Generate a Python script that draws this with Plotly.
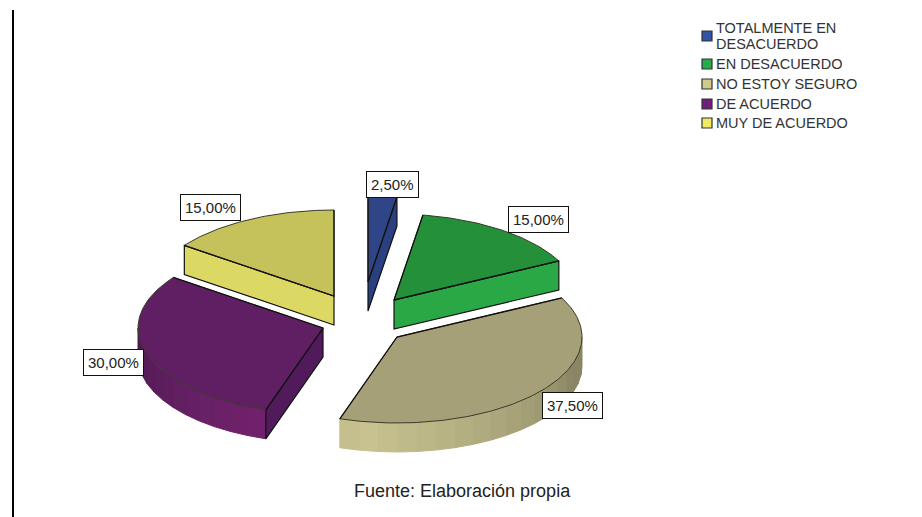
import math
import plotly.graph_objects as go

# data
categories = ['TOTALMENTE EN<br>DESACUERDO', 'EN DESACUERDO', 'NO ESTOY SEGURO',
              'DE ACUERDO', 'MUY DE ACUERDO']
percents = [2.5, 15.0, 37.5, 30.0, 15.0]

# styles
top_colors = ['#2f4588', '#25903a', '#a5a077', '#5f1f62', '#c5c15b']
cut_colors = ['#2a4080', '#2aa845', '#c5c08a', '#511a5b', '#dcd864']
rim_dark = ['#2a4080', '#1f7a33', '#8a8664', '#4a1a52', '#a8a44c']
rim_light = ['#2f4588', '#2aa845', '#c8c390', '#76236f', '#dcd864']
legend_colors = ['#3552a5', '#26ad4b', '#cfca8e', '#6e2078', '#efeb62']

# layout of the exploded pie, in page pixels
RX, RY, DEPTH = 185, 86, 29
apex_x = [368, 394, 397, 323, 334]
apex_y = [282, 300, 337, 328, 296]
label_x = [392.5, 538, 572, 113, 210]
label_y = [184, 219, 405.5, 362.5, 207.5]
legend_y = [36, 64, 84, 104, 123]


def rim_point(cx, cy, deg, drop=0):
    a = math.radians(deg)
    return cx + RX * math.sin(a), cy - RY * math.cos(a) + drop


def mix(c1, c2, t):
    p = [int(c1[i:i + 2], 16) for i in (1, 3, 5)]
    q = [int(c2[i:i + 2], 16) for i in (1, 3, 5)]
    return 'rgb(%d,%d,%d)' % tuple(a + (b - a) * t for a, b in zip(p, q))


def poly(xs, ys, fill, line=None, width=0):
    return go.Scatter(x=xs, y=ys, mode='lines', fill='toself', fillcolor=fill,
                      line=dict(color=line or fill, width=width or 1),
                      hoverinfo='skip', showlegend=False)


fig = go.Figure()

start = 0
for i, pct in enumerate(percents):
    end = start + pct * 3.6
    cx, cy = apex_x[i], apex_y[i]
    mid = (start + end) / 2

    # outer rim, only the part that faces the viewer
    a0, a1 = max(start, 90), min(end, 270)
    if a0 < a1:
        n = max(int((a1 - a0) / 6), 1)
        for k in range(n):
            s0 = a0 + (a1 - a0) * k / n
            s1 = a0 + (a1 - a0) * (k + 1) / n
            t = max(0, 1 - abs((s0 + s1) / 2 - 190) / 80) ** 0.8
            arc = [s0 + (s1 - s0) * j / 3 for j in range(4)]
            up = [rim_point(cx, cy, d) for d in arc]
            low = [rim_point(cx, cy, d, DEPTH) for d in reversed(arc)]
            pts = up + low + up[:1]
            fig.add_trace(poly([p[0] for p in pts], [p[1] for p in pts],
                               mix(rim_dark[i], rim_light[i], t)))

    # cut faces of the wedge
    mx, my = rim_point(0, 0, mid)
    for edge in (start, end):
        ex, ey = rim_point(0, 0, edge)
        nx, ny = ey, -ex
        if nx * mx + ny * my > 0:
            nx, ny = -nx, -ny
        if ny > 1:
            px, py = rim_point(cx, cy, edge)
            fig.add_trace(poly([cx, px, px, cx, cx],
                               [cy, py, py + DEPTH, cy + DEPTH, cy],
                               cut_colors[i], '#111111', 1.2))

    # top of the wedge
    steps = max(int(end - start), 2)
    arc = [rim_point(cx, cy, start + (end - start) * j / steps) for j in range(steps + 1)]
    fig.add_trace(poly([cx] + [p[0] for p in arc] + [cx],
                       [cy] + [p[1] for p in arc] + [cy],
                       top_colors[i], '#3a3a2a', 1))
    fig.add_trace(go.Scatter(x=[arc[0][0], cx, arc[-1][0]], y=[arc[0][1], cy, arc[-1][1]],
                             mode='lines', line=dict(color='#111111', width=1.3),
                             hoverinfo='skip', showlegend=False))

    fig.add_annotation(x=label_x[i], y=label_y[i], text=f'{pct:.2f}%'.replace('.', ','),
                       showarrow=False, bgcolor='white', bordercolor='#111111',
                       borderwidth=1, borderpad=4,
                       font=dict(family='Liberation Sans', size=15, color='#222222'))
    start = end

# legend
for i, name in enumerate(categories):
    fig.add_trace(go.Scatter(x=[707], y=[legend_y[i]], mode='markers', name=name,
                             marker=dict(symbol='square', size=10, color=legend_colors[i],
                                         line=dict(color='#333333', width=1.2)),
                             hoverinfo='skip', showlegend=False))
    lines = name.split('<br>')
    for j, line in enumerate(lines):
        fig.add_annotation(x=714, y=legend_y[i] - 8.25 * (len(lines) - 1) + 16.5 * j, text=line,
                           xanchor='left', showarrow=False,
                           font=dict(family='Liberation Sans', size=14.5, color='#333333'))

fig.add_annotation(x=462, y=491, text='Fuente: Elaboración propia', showarrow=False,
                   font=dict(family='Liberation Sans', size=18, color='#222222'))

fig.add_shape(type='line', x0=13, x1=13, y0=10, y1=517, line=dict(color='black', width=2))

fig.update_xaxes(range=[0, 922], visible=False, fixedrange=True)
fig.update_yaxes(range=[517, 0], visible=False, fixedrange=True)
fig.update_layout(width=922, height=517, margin=dict(l=0, r=0, t=0, b=0),
                  plot_bgcolor='white', paper_bgcolor='white', showlegend=False)

# the page's default body margin would push the chart 8px off
fig.write_html("out.html", config={'displayModeBar': False},
               post_script="document.body.style.margin='0';")
